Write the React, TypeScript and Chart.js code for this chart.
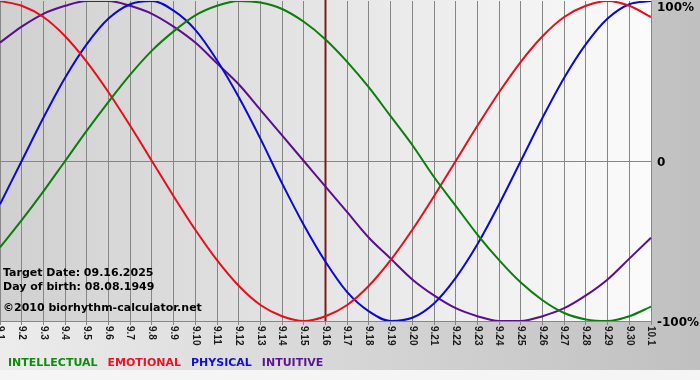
import { useEffect, useRef } from 'react';
import { Chart, registerables } from 'chart.js';

Chart.register(...registerables);

const dayLabels = [
  '9.1', '9.2', '9.3', '9.4', '9.5', '9.6', '9.7', '9.8', '9.9', '9.10',
  '9.11', '9.12', '9.13', '9.14', '9.15', '9.16', '9.17', '9.18', '9.19', '9.20',
  '9.21', '9.22', '9.23', '9.24', '9.25', '9.26', '9.27', '9.28', '9.29', '9.30', '10.1',
];

const intellectual = [
  -54, -37, -19, 0, 19, 37, 54, 69, 81, 91, 97, 100, 99, 95, 87, 76,
  62, 46, 28, 10, -10, -28, -46, -62, -76, -87, -95, -99, -100, -97, -91,
];
const emotional = [
  100, 97, 90, 78, 62, 43, 22, 0, -22, -43, -62, -78, -90, -97, -100, -97,
  -90, -78, -62, -43, -22, 0, 22, 43, 62, 78, 90, 97, 100, 97, 90,
];
const physical = [
  -27, 0, 27, 52, 73, 89, 98, 100, 94, 82, 63, 40, 14, -14, -40, -63,
  -82, -94, -100, -98, -89, -73, -52, -27, 0, 27, 52, 73, 89, 98, 100,
];
const intuitive = [
  74, 84, 92, 97, 100, 100, 97, 92, 84, 74, 61, 48, 32, 16, 0, -16,
  -32, -48, -61, -74, -84, -92, -97, -100, -100, -97, -92, -84, -74, -61, -48,
];

const seriesNames = ['INTELLECTUAL', 'EMOTIONAL', 'PHYSICAL', 'INTUITIVE'];
const seriesColors = ['#0b7d0b', '#e3101c', '#0a0ad2', '#5a0f8c'];
const legendColors = ['#118a11', '#ee1122', '#1111cc', '#5a1496'];

const yTickValues = [100, 0, -100];
const yTickTexts = ['100%', '0', '-100%'];

const targetIndex = 15;
const infoLines = [
  'Target Date: 09.16.2025',
  'Day of birth: 08.08.1949',
  '\u00a92010 biorhythm-calculator.net',
];

const bgPlugin = {
  id: 'bgPlugin',
  beforeDraw(chart: any) {
    const { ctx, chartArea: a, width, height } = chart;
    ctx.save();
    ctx.fillStyle = '#f5f5f5';
    ctx.fillRect(0, 0, width, height);
    const g = ctx.createLinearGradient(0, 0, width, 0);
    g.addColorStop(0, '#ececec');
    g.addColorStop(1, '#c0c0c0');
    ctx.fillStyle = g;
    ctx.fillRect(0, 0, width, 370);
    const g2 = ctx.createLinearGradient(a.left, 0, a.right, 0);
    g2.addColorStop(0, '#d0d0d0');
    g2.addColorStop(1, '#fbfbfb');
    ctx.fillStyle = g2;
    ctx.fillRect(a.left, 0, a.right - a.left, a.bottom);
    ctx.restore();
  },
  beforeDatasetsDraw(chart: any) {
    const { ctx, chartArea: a } = chart;
    const x = chart.scales.x.getPixelForValue(targetIndex);
    ctx.save();
    ctx.strokeStyle = '#7a1c1c';
    ctx.lineWidth = 2;
    ctx.beginPath();
    ctx.moveTo(x, 0);
    ctx.lineTo(x, a.bottom);
    ctx.stroke();
    ctx.restore();
  },
  afterDraw(chart: any) {
    const { ctx, chartArea: a } = chart;
    const xs = chart.scales.x;
    const ys = chart.scales.y;
    ctx.save();
    // x tick labels, rotated clockwise
    ctx.fillStyle = '#1a1a1a';
    ctx.font = 'bold 10px "Liberation Sans"';
    ctx.textAlign = 'left';
    ctx.textBaseline = 'middle';
    dayLabels.forEach((lab, i) => {
      const x = xs.getPixelForValue(i);
      ctx.save();
      ctx.translate(x, a.bottom + 5);
      ctx.rotate(Math.PI / 2);
      ctx.fillText(lab, 0, 0);
      ctx.restore();
    });
    // y labels
    ctx.font = 'bold 12px "DejaVu Sans"';
    ctx.fillStyle = '#000';
    ctx.textBaseline = 'alphabetic';
    const yOff = [10, 5, 5];
    yTickValues.forEach((v, i) => {
      const y = ys.getPixelForValue(v);
      ctx.fillText(yTickTexts[i], a.right + 6, y + yOff[i]);
    });
    // info text
    ctx.font = 'bold 11px "DejaVu Sans"';
    ctx.fillStyle = '#000';
    const baselines = [276, 290, 311];
    infoLines.forEach((t, i) => ctx.fillText(t, 3, baselines[i]));
    // legend
    let lx = 8;
    seriesNames.forEach((n, i) => {
      ctx.fillStyle = legendColors[i];
      ctx.fillText(n, lx, 366);
      lx += ctx.measureText(n).width + 10;
    });
    ctx.restore();
  },
};

export default function App() {
  const ref = useRef<HTMLCanvasElement>(null);
  useEffect(() => {
    document.body.style.margin = '0';
    const datasets = [intellectual, emotional, physical, intuitive].map((d, i) => ({
      label: seriesNames[i],
      data: d,
      borderColor: seriesColors[i],
      backgroundColor: seriesColors[i],
      borderWidth: 2,
      pointRadius: 0,
      fill: false,
      cubicInterpolationMode: 'monotone' as const,
    }));
    const chart = new Chart(ref.current!, {
      type: 'line',
      data: { labels: dayLabels, datasets },
      plugins: [bgPlugin],
      options: {
        animation: false,
        responsive: false,
        layout: { padding: { left: 0, top: 1, right: 49, bottom: 55 } },
        plugins: { legend: { display: false }, tooltip: { enabled: false } },
        scales: {
          x: {
            type: 'category',
            offset: false,
            ticks: { display: false },
            grid: { color: '#868686', lineWidth: 1, drawTicks: true, tickLength: 4 },
            border: { display: true, color: '#868686' },
          },
          y: {
            position: 'right',
            min: -100,
            max: 100,
            ticks: { display: false, stepSize: 100 },
            grid: {
              drawTicks: false,
              color: (c: any) => (c.tick && c.tick.value === 0 ? '#868686' : 'rgba(0,0,0,0)'),
            },
            border: { display: false },
          },
        },
      },
    });
    return () => chart.destroy();
  }, []);
  return (
    <div style={{ width: 700, height: 380 }}>
      <canvas ref={ref} width={700} height={380} style={{ display: 'block' }} />
    </div>
  );
}
